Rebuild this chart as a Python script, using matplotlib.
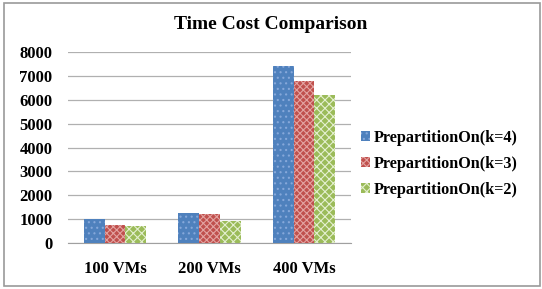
import matplotlib
matplotlib.use('Agg')
import matplotlib.pyplot as plt
import matplotlib.patches as mpatches
import numpy as np

categories = ['100 VMs', '200 VMs', '400 VMs']
k4 = [1000, 1270, 7400]
k3 = [770, 1220, 6800]
k2 = [730, 940, 6200]
labels = ['PrepartitionOn(k=4)', 'PrepartitionOn(k=3)', 'PrepartitionOn(k=2)']

plt.rcParams['font.family'] = 'Liberation Serif'
plt.rcParams['font.weight'] = 'bold'
plt.rcParams['hatch.linewidth'] = 0.8

fig = plt.figure(figsize=(5.42, 2.89), dpi=100)
ax = fig.add_axes([0.125, 0.159, 0.523, 0.661])

x = np.arange(len(categories))
w = 0.22
styles = [('#4F81BD', '#86A8DA', '...'),
          ('#C0504D', '#E3A3A1', 'xxxxx'),
          ('#9BBB59', '#E4EFD0', 'xxxx')]
for i, (vals, lab) in enumerate(zip([k4, k3, k2], labels)):
    fc, hc, hatch = styles[i]
    ax.bar(x + (i - 1) * w, vals, w, color=fc, edgecolor=hc, hatch=hatch,
           linewidth=0, label=lab, zorder=3)

ax.set_xlim(-0.5, 2.5)
ax.set_ylim(0, 8000)
ax.set_yticks(range(0, 8001, 1000))
ax.set_xticks(x)
ax.set_xticklabels(categories)
ax.tick_params(axis='both', length=0, labelsize=12)
ax.tick_params(axis='x', pad=13)
ax.tick_params(axis='y', pad=11)
ax.grid(axis='y', color='#B0B0B0', linewidth=0.9, zorder=0)
for s in ['top', 'right', 'left']:
    ax.spines[s].set_visible(False)
ax.spines['bottom'].set_color('#A0A0A0')

fig.text(0.5, 0.915, 'Time Cost Comparison', ha='center', va='center',
         fontsize=14, fontweight='bold')

ax.legend(loc='center left', bbox_to_anchor=(1.0, 0.415), frameon=False,
          fontsize=11.7, handlelength=0.55, handleheight=0.55, handletextpad=0.25,
          labelspacing=0.62, borderaxespad=0.2)

fig.patches.append(mpatches.Rectangle((0.008, 0.012), 0.988, 0.976,
                                      transform=fig.transFigure, fill=False,
                                      edgecolor='#9A9A9A', linewidth=1.2))

fig.savefig('out.png', dpi=100)
